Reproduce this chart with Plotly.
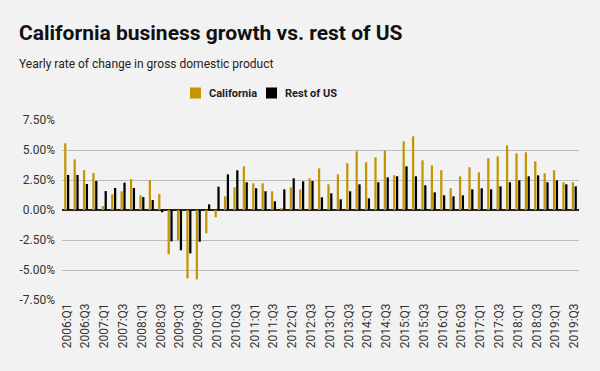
import plotly.graph_objects as go

quarters = [f"{y}:Q{q}" for y in range(2006, 2020) for q in range(1, 5)][:55]

california = [
    5.56, 4.22, 3.33, 3.08,
    0.33, 1.31, 1.56, 2.58,
    1.22, 2.50, 1.33, -3.69,
    -2.50, -5.69, -5.78, -1.94,
    -0.61, 1.14, 1.89, 3.64,
    2.22, 2.22, 1.56, 0.14,
    1.89, 1.72, 2.64, 3.47,
    2.14, 2.97, 3.89, 4.89,
    3.97, 4.39, 4.97, 2.89,
    5.72, 6.14, 4.14, 3.72,
    3.31, 1.81, 2.81, 3.56,
    3.14, 4.31, 4.47, 5.39,
    4.72, 4.81, 4.06, 3.06,
    3.31, 2.31, 2.31,
]

rest_of_us = [
    2.92, 2.92, 2.17, 2.42,
    1.58, 1.83, 2.28, 1.83,
    1.08, 0.83, -0.19, -2.61,
    -3.36, -3.61, -2.64, 0.47,
    1.94, 2.97, 3.31, 2.31,
    1.81, 1.56, 0.72, 1.72,
    2.64, 2.39, 2.42, 1.06,
    1.39, 0.89, 1.56, 2.14,
    0.97, 2.31, 2.72, 2.81,
    3.64, 2.81, 2.06, 1.47,
    1.22, 1.14, 1.22, 1.72,
    1.81, 1.72, 1.97, 2.31,
    2.47, 2.81, 2.89, 2.31,
    2.47, 2.14, 1.97,
]

series_names = ["California", "Rest of US"]

y_ticks = [-7.5, -5, -2.5, 0, 2.5, 5, 7.5]
y_tick_labels = [f"{v:.2f}%" for v in y_ticks]

GOLD = "#c49500"
BLACK = "#000000"
BG = "#f2f2f2"
FONT = "Roboto"
colors = [GOLD, BLACK]

fig = go.Figure()
for name, vals, col in zip(series_names, [california, rest_of_us], colors):
    fig.add_trace(go.Bar(x=quarters, y=vals, name=name,
                         marker=dict(color=col, line=dict(width=0))))

W, H = 600, 371
ml, mr, mt, mb = 62, 21, 120, 71
ph = H - mt - mb
pw = W - ml - mr

def px_x(x):
    return (x - ml) / pw

def px_y(y):
    return (H - mb - y) / ph

# legend (drawn as swatches + labels to match the reference spacing)
legend_shapes = []
legend_annots = []
sw_left = [190, 266]
for name, col, x0 in zip(series_names, colors, sw_left):
    legend_shapes.append(dict(type="rect", xref="paper", yref="paper",
                              x0=px_x(x0), x1=px_x(x0 + 11),
                              y0=px_y(98.5), y1=px_y(87.5),
                              fillcolor=col, line=dict(width=0)))
    legend_annots.append(dict(text=f"<b>{name}</b>", xref="paper", yref="paper",
                              x=px_x(x0 + 17), y=px_y(93), xanchor="left",
                              yanchor="middle", showarrow=False,
                              font=dict(family=FONT, size=11, color="#222222")))

fig.update_layout(
    width=W, height=H,
    margin=dict(l=ml, r=mr, t=mt, b=mb, pad=0, autoexpand=False),
    paper_bgcolor=BG, plot_bgcolor=BG,
    font=dict(family=FONT, color="#333333", size=12),
    barmode="group", bargap=0.4, bargroupgap=0.2,
    showlegend=False,
    xaxis=dict(type="category", tickangle=-90, showgrid=False, zeroline=False,
               showline=False, ticks="", automargin=False,
               tickfont=dict(size=12, color="#333333"),
               tickmode="array", tickvals=quarters[::2], ticktext=quarters[::2]),
    yaxis=dict(range=[-7.5, 7.5], tickmode="array", tickvals=y_ticks,
               ticktext=y_tick_labels, showgrid=True, gridcolor="#bdbdbd",
               gridwidth=1, zeroline=True, zerolinecolor="#222222",
               zerolinewidth=1.5, showline=False, ticks="", automargin=False,
               tickfont=dict(size=12, color="#333333"), ticklabelstandoff=6),
    shapes=legend_shapes,
    annotations=[
        dict(text="<b>California business growth vs. rest of US</b>",
             xref="paper", yref="paper", x=px_x(17), y=px_y(33),
             xanchor="left", yanchor="middle", showarrow=False,
             font=dict(family=FONT, size=21, color="#111111")),
        dict(text="Yearly rate of change in gross domestic product",
             xref="paper", yref="paper", x=px_x(17), y=px_y(64),
             xanchor="left", yanchor="middle", showarrow=False,
             font=dict(family=FONT, size=12, color="#222222")),
    ] + legend_annots,
)

fig.write_html("out.html",
               config={"displayModeBar": False},
               post_script="document.body.style.margin='0';document.body.style.background='%s';" % BG)
